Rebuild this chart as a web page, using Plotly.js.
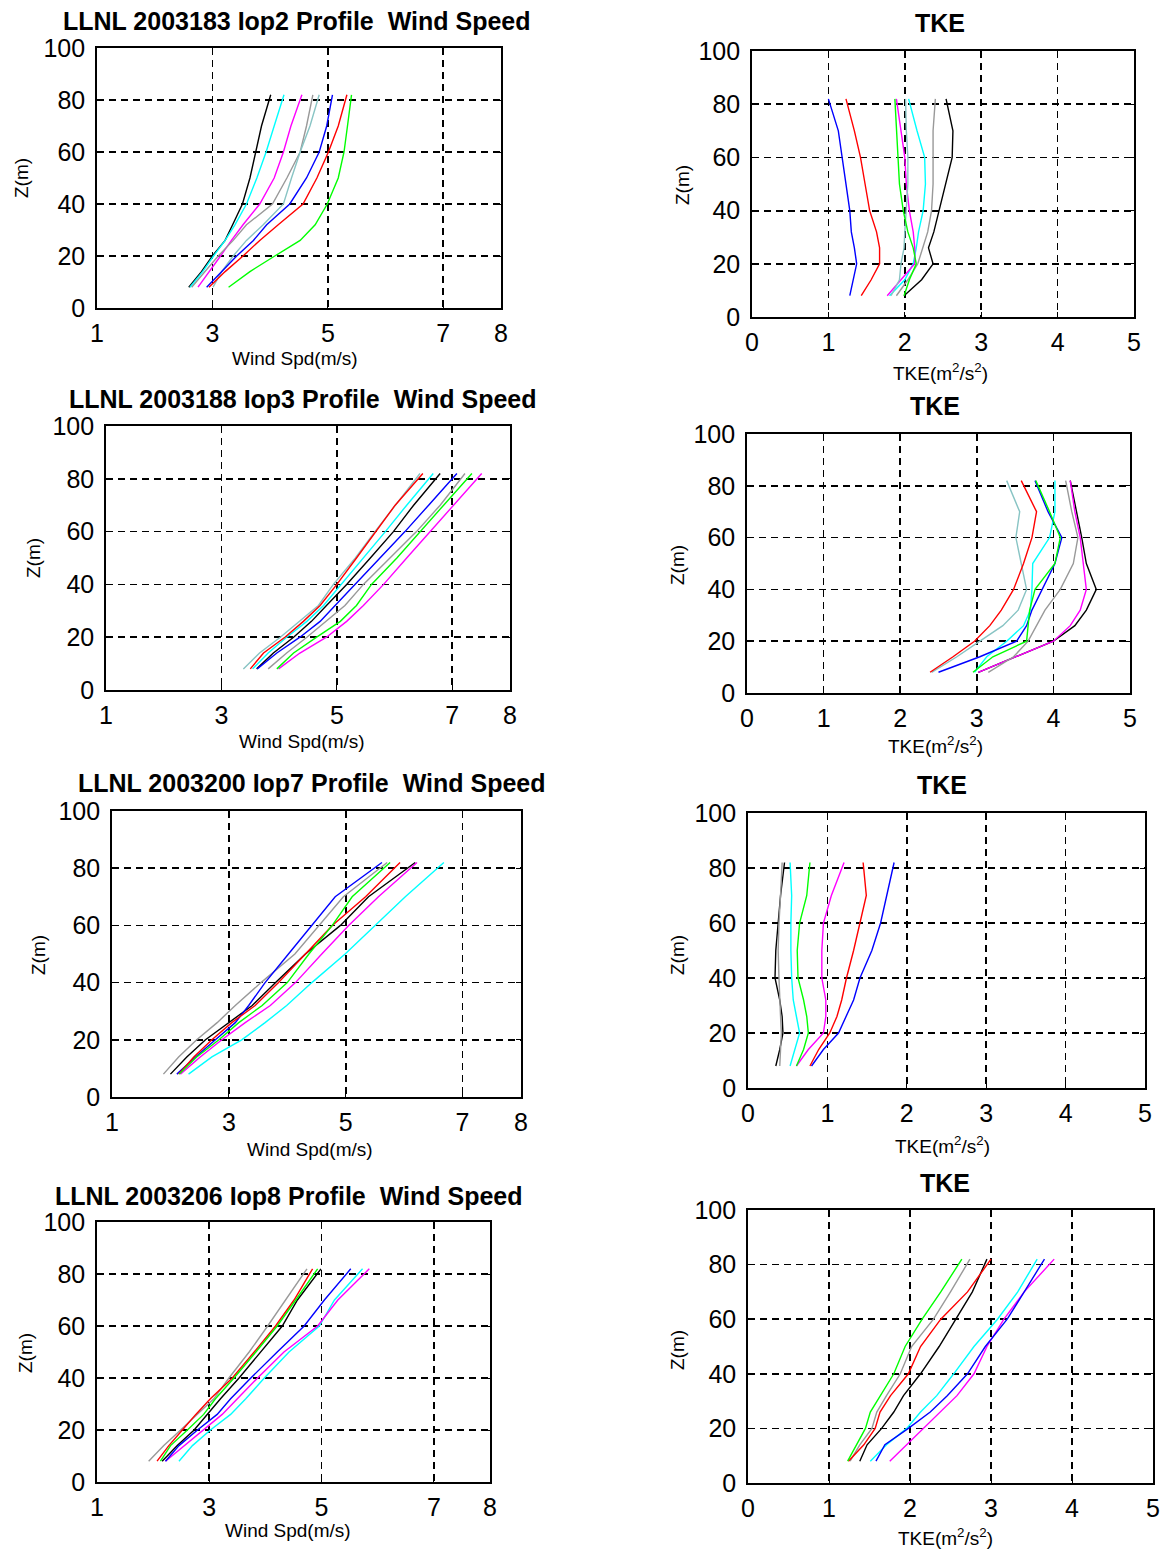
<!DOCTYPE html>
<html>
<head>
<meta charset="utf-8">
<script src="https://cdn.plot.ly/plotly-3.0.1.min.js"></script>
<style>html,body{margin:0;padding:0;background:#fff;}#chart{width:1160px;height:1553px;}</style>
</head>
<body>
<div id="chart"></div>
<script>
// Heights (m) at which each profile is sampled
const heights = [8, 14, 20, 26, 32, 40, 50, 60, 70, 82];

// Series order / names (one line per series in every panel)
const seriesNames = ['black', 'cyan', 'magenta', 'gray', 'teal', 'blue', 'red', 'green'];
const seriesColors = ['#000000', '#00ffff', '#ff00ff', '#999999', '#88c4c4', '#0000ff', '#ff0000', '#00ff00'];

// Panel titles / labels
const panelTitles = [
  'LLNL 2003183 Iop2 Profile\u00a0 Wind Speed', 'TKE',
  'LLNL 2003188 Iop3 Profile\u00a0 Wind Speed', 'TKE',
  'LLNL 2003200 Iop7 Profile\u00a0 Wind Speed', 'TKE',
  'LLNL 2003206 Iop8 Profile\u00a0 Wind Speed', 'TKE'
];
const xLabelWind = 'Wind Spd(m/s)';
const xLabelTke = 'TKE(m<sup>2</sup>/s<sup>2</sup>)';
const yLabel = 'Z(m)';
const windTicks = [1, 3, 5, 7, 8];
const tkeTicks = [0, 1, 2, 3, 4, 5];
const zTicks = [0, 20, 40, 60, 80, 100];

// ---- Data (rows follow seriesNames order; null = series not drawn) ----
const iop2Wind = [
  [2.59, 2.81, 3.00, 3.22, 3.35, 3.52, 3.65, 3.75, 3.85, 4.01],
  [2.61, 2.83, 3.02, 3.22, 3.39, 3.59, 3.77, 3.93, 4.07, 4.24],
  [2.75, 2.95, 3.14, 3.33, 3.53, 3.82, 4.07, 4.23, 4.36, 4.55],
  [2.64, 2.87, 3.10, 3.36, 3.59, 4.04, 4.29, 4.52, 4.63, 4.74],
  [3.01, 3.16, 3.36, 3.59, 3.88, 4.23, 4.37, 4.52, 4.69, 4.85],
  [2.90, 3.16, 3.42, 3.71, 3.94, 4.34, 4.63, 4.85, 4.98, 5.08],
  [2.94, 3.22, 3.53, 3.82, 4.14, 4.57, 4.81, 5.01, 5.18, 5.33],
  [3.28, 3.65, 4.08, 4.52, 4.78, 4.99, 5.18, 5.28, 5.34, 5.41]
];
const iop2Tke = [
  [1.99, 2.22, 2.37, 2.31, 2.38, 2.45, 2.53, 2.62, 2.63, 2.54],
  [1.80, 2.00, 2.11, 2.15, 2.18, 2.24, 2.27, 2.26, 2.16, 2.05],
  [1.77, 1.95, 2.13, 2.13, 2.11, 2.06, 2.02, 2.00, 1.95, 1.89],
  [1.89, 2.04, 2.17, 2.24, 2.30, 2.35, 2.37, 2.37, 2.37, 2.40],
  [1.82, 1.93, 1.95, 1.99, 2.00, 2.02, 2.04, 2.04, 2.02, 2.01],
  [1.28, 1.32, 1.37, 1.34, 1.30, 1.28, 1.23, 1.18, 1.13, 1.00],
  [1.43, 1.56, 1.67, 1.67, 1.63, 1.54, 1.48, 1.42, 1.34, 1.23],
  [1.99, 2.06, 2.15, 2.11, 2.04, 1.98, 1.93, 1.91, 1.89, 1.87]
];
const iop3Wind = [
  [3.61, 3.90, 4.25, 4.56, 4.82, 5.17, 5.58, 5.98, 6.33, 6.79],
  [3.54, 3.81, 4.13, 4.48, 4.77, 5.08, 5.46, 5.84, 6.21, 6.67],
  [3.99, 4.36, 4.82, 5.17, 5.46, 5.81, 6.21, 6.62, 7.02, 7.51],
  [3.81, 4.13, 4.48, 4.82, 5.14, 5.46, 5.92, 6.38, 6.79, 7.22],
  [3.38, 3.66, 4.02, 4.36, 4.68, 4.94, 5.32, 5.66, 6.01, 6.44],
  [3.62, 3.96, 4.36, 4.71, 4.97, 5.32, 5.75, 6.18, 6.59, 7.08],
  [3.50, 3.73, 4.10, 4.42, 4.71, 5.00, 5.34, 5.68, 6.01, 6.49],
  [3.96, 4.25, 4.65, 5.06, 5.34, 5.60, 6.04, 6.44, 6.85, 7.34]
];
const iop3Tke = [
  [3.02, 3.52, 4.00, 4.28, 4.43, 4.56, 4.43, 4.37, 4.30, 4.22],
  [2.97, 3.13, 3.39, 3.61, 3.70, 3.72, 3.73, 3.95, 4.02, 4.02],
  [3.02, 3.52, 4.00, 4.22, 4.35, 4.43, 4.39, 4.35, 4.28, 4.22],
  [3.15, 3.48, 3.67, 3.78, 3.89, 4.09, 4.26, 4.32, 4.24, 4.16],
  [2.41, 2.74, 3.04, 3.34, 3.54, 3.65, 3.58, 3.51, 3.56, 3.39],
  [2.50, 3.04, 3.52, 3.65, 3.72, 3.85, 4.02, 4.11, 3.93, 3.76],
  [2.39, 2.69, 2.97, 3.17, 3.32, 3.48, 3.61, 3.72, 3.78, 3.58],
  [2.95, 3.21, 3.65, 3.67, 3.69, 3.76, 4.02, 4.09, 3.95, 3.77]
];
const iop7Wind = [
  [2.00, 2.28, 2.60, 3.00, 3.40, 3.80, 4.31, 4.91, 5.39, 6.19],
  [2.31, 2.71, 3.22, 3.62, 3.99, 4.42, 4.99, 5.51, 6.02, 6.68],
  [2.17, 2.51, 2.88, 3.28, 3.71, 4.14, 4.59, 5.05, 5.56, 6.22],
  [1.88, 2.14, 2.45, 2.80, 3.11, 3.55, 4.13, 4.55, 4.96, 5.71],
  null,
  [2.11, 2.43, 2.77, 3.11, 3.34, 3.62, 4.02, 4.42, 4.82, 5.62],
  [2.14, 2.40, 2.71, 3.05, 3.45, 3.85, 4.31, 4.77, 5.34, 5.93],
  [2.15, 2.45, 2.83, 3.17, 3.57, 4.00, 4.37, 4.77, 5.11, 5.76]
];
const iop7Tke = [
  [0.35, 0.40, 0.44, 0.43, 0.40, 0.34, 0.35, 0.38, 0.41, 0.46],
  [0.53, 0.59, 0.65, 0.61, 0.57, 0.55, 0.54, 0.54, 0.55, 0.53],
  [0.61, 0.76, 0.95, 0.98, 0.98, 0.93, 0.93, 0.95, 1.05, 1.21],
  [0.40, 0.41, 0.42, 0.41, 0.40, 0.39, 0.38, 0.39, 0.41, 0.43],
  null,
  [0.80, 0.95, 1.14, 1.24, 1.33, 1.41, 1.56, 1.67, 1.75, 1.84],
  [0.78, 0.89, 1.03, 1.12, 1.18, 1.24, 1.33, 1.41, 1.49, 1.45],
  [0.61, 0.70, 0.76, 0.74, 0.70, 0.63, 0.62, 0.65, 0.74, 0.78]
];
const iop8Wind = [
  [2.16, 2.43, 2.73, 2.96, 3.20, 3.53, 3.92, 4.30, 4.57, 4.99],
  [2.46, 2.70, 3.02, 3.38, 3.65, 3.98, 4.42, 4.96, 5.23, 5.73],
  [2.22, 2.55, 2.90, 3.23, 3.50, 3.86, 4.33, 4.93, 5.29, 5.85],
  [1.92, 2.19, 2.49, 2.79, 3.08, 3.35, 3.71, 4.04, 4.36, 4.74],
  null,
  [2.22, 2.46, 2.79, 3.14, 3.38, 3.74, 4.21, 4.69, 5.05, 5.52],
  [2.07, 2.28, 2.52, 2.76, 3.02, 3.41, 3.80, 4.18, 4.51, 4.84],
  [2.13, 2.31, 2.61, 2.90, 3.11, 3.44, 3.83, 4.21, 4.54, 4.93]
];
const iop8Tke = [
  [1.38, 1.47, 1.65, 1.80, 1.92, 2.13, 2.36, 2.56, 2.77, 2.95],
  [1.51, 1.71, 1.96, 2.13, 2.33, 2.54, 2.79, 3.08, 3.33, 3.57],
  [1.75, 1.96, 2.17, 2.38, 2.58, 2.79, 2.95, 3.16, 3.41, 3.78],
  [1.26, 1.38, 1.53, 1.59, 1.71, 1.88, 2.02, 2.29, 2.50, 2.74],
  null,
  [1.58, 1.69, 1.98, 2.25, 2.46, 2.71, 2.93, 3.20, 3.41, 3.66],
  [1.24, 1.43, 1.57, 1.63, 1.76, 1.98, 2.13, 2.38, 2.71, 3.00],
  [1.23, 1.34, 1.45, 1.51, 1.63, 1.80, 1.94, 2.15, 2.38, 2.64]
];

const panelData = [iop2Wind, iop2Tke, iop3Wind, iop3Tke, iop7Wind, iop7Tke, iop8Wind, iop8Tke];

// ---- Layout geometry (pixels) ----
const W = 1160, H = 1553;
// [x0, x1, y0, y1] of each plot box
const boxes = [
  [97, 501, 48, 308],   [752, 1134, 51, 317],
  [106, 510, 426, 690], [747, 1130, 434, 693],
  [112, 521, 811, 1097],[748, 1145, 813, 1088],
  [97, 490, 1222, 1482],[748, 1153, 1210, 1483]
];
const titlePos = [[297, 21], [940, 23], [303, 399], [935, 406], [312, 783], [942, 785], [289, 1196], [945, 1183]];
const xLabelPos = [[295, 358], [940, 372], [302, 741], [935, 745], [310, 1149], [942, 1145], [288, 1530], [945, 1537]];
const yLabelPos = [[22, 178], [683, 185], [33, 558], [677, 565], [38, 955], [677, 955], [25, 1353], [677, 1350]];

const tickFont = {family: 'Liberation Sans Narrow, Arial Narrow, Liberation Sans, sans-serif', size: 25, color: '#000'};
const labelFont = {family: 'Liberation Sans, Arial, sans-serif', size: 19, color: '#000'};
const titleFont = {family: 'Liberation Sans, Arial, sans-serif', size: 25, color: '#000', weight: 'bold'};

function axisBase() {
  return {
    showgrid: true, gridcolor: '#000', griddash: '7px,5px', gridwidth: 1.8,
    showline: true, mirror: 'ticks', linecolor: '#000', linewidth: 1.8,
    ticks: 'inside', ticklen: 5, tickcolor: '#000', tickwidth: 1,
    zeroline: false, tickfont: tickFont, ticklabelstandoff: 2, fixedrange: true,
    tickmode: 'array'
  };
}

const traces = [];
const layout = {
  width: W, height: H,
  margin: {l: 0, r: 0, t: 0, b: 0},
  paper_bgcolor: '#fff', plot_bgcolor: '#fff',
  showlegend: false,
  annotations: []
};

for (let p = 0; p < 8; p++) {
  const isTke = p % 2 === 1;
  const n = p + 1;
  const xa = 'xaxis' + (n === 1 ? '' : n);
  const ya = 'yaxis' + (n === 1 ? '' : n);
  const xr = 'x' + (n === 1 ? '' : n);
  const yr = 'y' + (n === 1 ? '' : n);
  const b = boxes[p];
  const xAx = axisBase();
  xAx.domain = [b[0] / W, b[1] / W];
  xAx.range = isTke ? [0, 5] : [1, 8];
  xAx.tickvals = isTke ? tkeTicks : windTicks;
  xAx.anchor = yr;
  const yAx = axisBase();
  yAx.domain = [1 - b[3] / H, 1 - b[2] / H];
  yAx.range = [0, 100];
  yAx.tickvals = zTicks;
  yAx.anchor = xr;
  yAx.ticklabelstandoff = 5;
  layout[xa] = xAx;
  layout[ya] = yAx;

  const rows = panelData[p];
  for (let s = 0; s < seriesNames.length; s++) {
    if (!rows[s]) continue;
    traces.push({
      type: 'scatter', mode: 'lines',
      x: rows[s], y: heights,
      xaxis: xr, yaxis: yr,
      name: seriesNames[s],
      line: {color: seriesColors[s], width: 1.4},
      hoverinfo: 'skip'
    });
  }

  layout.annotations.push({
    xref: 'paper', yref: 'paper', x: titlePos[p][0] / W, y: 1 - titlePos[p][1] / H,
    xanchor: 'center', yanchor: 'middle', showarrow: false,
    text: panelTitles[p], font: titleFont
  });
  layout.annotations.push({
    xref: 'paper', yref: 'paper', x: xLabelPos[p][0] / W, y: 1 - xLabelPos[p][1] / H,
    xanchor: 'center', yanchor: 'middle', showarrow: false,
    text: isTke ? xLabelTke : xLabelWind, font: labelFont
  });
  layout.annotations.push({
    xref: 'paper', yref: 'paper', x: yLabelPos[p][0] / W, y: 1 - yLabelPos[p][1] / H,
    xanchor: 'center', yanchor: 'middle', showarrow: false, textangle: -90,
    text: yLabel, font: labelFont
  });
}

Plotly.newPlot('chart', traces, layout, {displayModeBar: false, staticPlot: true});
</script>
</body>
</html>
